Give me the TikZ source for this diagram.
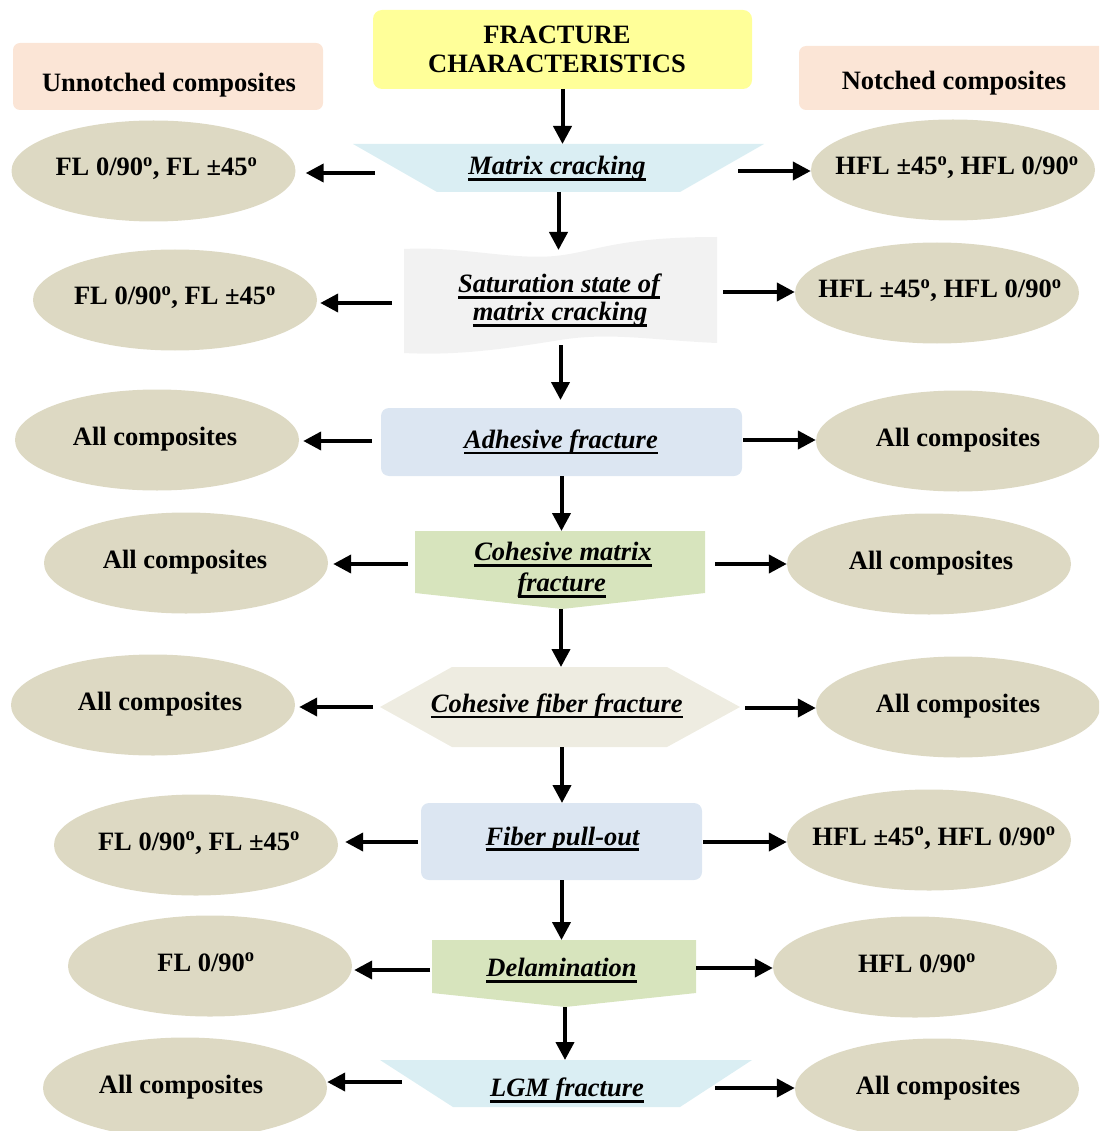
\documentclass[tikz,border=0pt]{standalone}
\usepackage{fontspec}
\setmainfont{Liberation Serif}
\usetikzlibrary{arrows.meta,shapes.geometric}
\definecolor{ellc}{HTML}{DDD9C3}
\definecolor{yel}{HTML}{FFFF99}
\definecolor{peach}{HTML}{FBE5D6}
\definecolor{ltblue}{HTML}{DAEEF3}
\definecolor{gry}{HTML}{F2F2F2}
\definecolor{blu}{HTML}{DCE6F2}
\definecolor{grn}{HTML}{D7E4BD}
\definecolor{beige}{HTML}{EEECE1}
\newcommand\fsz{\fontsize{26.5}{29.4}\selectfont\bfseries}
\newcommand\ulb[1]{\setbox0\hbox{#1}\rlap{\rule[-6pt]{\wd0}{2.6pt}}\box0}
\newcommand\dg{\textsuperscript{o}}
\tikzset{
  lab/.style={anchor=base, font=\fsz, inner sep=0pt},
  ilab/.style={anchor=base, font=\fsz\itshape, inner sep=0pt},
  ell/.style={ellipse, fill=ellc, minimum width=284pt, minimum height=101pt, inner sep=0pt},
  etext/.style={font=\fsz, inner sep=0pt, text height=16pt, text depth=6pt},
  shp/.style={rectangle, inner sep=0pt, outer sep=0pt},
  arr/.style={line width=4pt, -{Triangle[length=18pt,width=18pt]}},
}
\begin{document}
\begin{tikzpicture}[x=1pt,y=-1pt]
\useasboundingbox (0,0) rectangle (1099,1131);
\clip (0,0) rectangle (1099,1131);

% headers
\node[shp, fill=yel, rounded corners=9pt, minimum width=379pt, minimum height=79pt] (top) at (562.5,49.5) {};
\node[font=\fsz, align=center, inner sep=0pt] (topt) at (557,49.5) {FRACTURE\\CHARACTERISTICS};
\node[shp, fill=peach, rounded corners=7pt, minimum width=310pt, minimum height=67pt] (unn) at (168,76.5) {};
\node[lab] (unnt) at (169,91.5) {Unnotched composites};
\node[shp, fill=peach, rounded corners=7pt, minimum width=320pt, minimum height=64pt] (not) at (959,78) {};
\node[lab] (nott) at (954,89.3) {Notched composites};

% process shapes
\node[shp, minimum width=411pt, minimum height=48pt] (mc) at (558.5,168) {};
\fill[ltblue] (353,144) -- (764,144) -- (680,192) -- (437,192) -- cycle;
\node[ilab] (mct) at (557,175) {\ulb{Matrix cracking}};

\node[shp, minimum width=313pt, minimum height=116pt] (sat) at (560.5,295) {};
\fill[gry] (404,249) .. controls (460,246) and (510,260) .. (555,256)
  .. controls (595,252) and (615,237) .. (717,237)
  -- (717,343) .. controls (650,340) and (610,332) .. (560,340)
  .. controls (510,348) and (460,356) .. (404,353) -- cycle;
\node[ilab] (satt1) at (559,292.7) {\ulb{Saturation state of}};
\node[ilab] (satt2) at (560,320.7) {\ulb{matrix cracking}};

\node[shp, fill=blu, rounded corners=8pt, minimum width=361pt, minimum height=68pt] (adh) at (561.5,442) {};
\node[ilab] (adht) at (561,448.3) {\ulb{Adhesive fracture}};

\node[shp, minimum width=290pt, minimum height=78pt] (cm) at (561,570) {};
\fill[grn] (415,531) -- (705,531) -- (705,593) -- (562,609) -- (415,593) -- cycle;
\node[ilab] (cmt1) at (563,560.7) {\ulb{Cohesive matrix}};
\node[ilab] (cmt2) at (561.7,591.7) {\ulb{fracture}};

\node[shp, minimum width=360pt, minimum height=80pt] (cf) at (562,707) {};
\fill[beige] (380,707) -- (452,667) -- (667,667) -- (740,707) -- (667,747) -- (452,747) -- cycle;
\node[ilab] (cft) at (556.7,712.3) {\ulb{Cohesive fiber fracture}};

\node[shp, fill=blu, rounded corners=8pt, minimum width=281pt, minimum height=77pt] (fp) at (561.5,841.5) {};
\node[ilab] (fpt) at (562.5,845) {\ulb{Fiber pull-out}};

\node[shp, minimum width=264pt, minimum height=67pt] (del) at (565,973.5) {};
\fill[grn] (432,940) -- (696,940) -- (696,993) -- (565,1007) -- (432,993) -- cycle;
\node[ilab] (delt) at (561.5,976.7) {\ulb{Delamination}};

\node[shp, minimum width=372pt, minimum height=47pt] (lgm) at (566,1083.5) {};
\fill[ltblue] (380,1060) -- (752,1060) -- (680,1107) -- (453,1107) -- cycle;
\node[ilab] (lgmt) at (567,1096.7) {\ulb{LGM fracture}};

% ellipses
\foreach \n/\x/\y/\dx/\t in {
  L1/153.5/171/3/{FL 0/90\dg, FL ±45\dg},
  R1/953/170/4/{HFL ±45\dg, HFL 0/90\dg},
  L2/175/300/0/{FL 0/90\dg, FL ±45\dg},
  R2/937/293/3/{HFL ±45\dg, HFL 0/90\dg},
  L3/157/440/-2/{All composites},
  R3/958/441/0/{All composites},
  L4/186/563/-1/{All composites},
  R4/929/564/2/{All composites},
  L5/153/705/7/{All composites},
  R5/958/707/0/{All composites},
  L6/196/845/3/{FL 0/90\dg, FL ±45\dg},
  R6/929/840/5/{HFL ±45\dg, HFL 0/90\dg},
  L7/210/966/-4/{FL 0/90\dg},
  R7/915/967/2/{HFL 0/90\dg},
  L8/185/1088/-4/{All composites},
  R8/937/1089/1/{All composites}}{
  \node[ell] (\n) at (\x,\y) {};
  \node[etext, xshift=\dx pt] (\n t) at (\n) {\t};
}

% vertical arrows
\draw[arr] (top.south) -- (top.south |- mc.north);
\draw[arr] (mc.south) -- ([yshift=-13pt]mc.south |- sat.north);
\draw[arr] ([yshift=8pt]sat.south) -- ([yshift=8pt]sat.south |- adh.north);
\draw[arr] (adh.south) -- (adh.south |- cm.north);
\draw[arr] (cm.south) -- (cm.south |- cf.north);
\draw[arr] (cf.south) -- (cf.south |- fp.north);
\draw[arr] (fp.south) -- (fp.south |- del.north);
\draw[arr] (del.south) -- (del.south |- lgm.north);

% horizontal arrows
\foreach \c/\x/\y in {
  a1L/375/173, a2L/392/303, a3L/372/441, a4L/408/564,
  a5L/373/707, a6L/418/842, a7L/430/970, a8L/402/1082,
  a1R/738/171, a2R/723/292, a3R/743/440, a4R/715/564,
  a5R/745/708, a6R/703/842, a7R/696/968, a8R/715/1088}{
  \coordinate (\c) at (\x,\y);
}
\foreach \c/\e/\s in {a1L/L1/10, a2L/L2/3, a3L/L3/4, a4L/L4/5, a5L/L5/4, a6L/L6/7, a7L/L7/2, a8L/L8/0}{
  \draw[arr, shorten >=\s pt] (\c) -- (\c -| \e.east);
}
\foreach \c/\e in {a1R/R1, a2R/R2, a3R/R3, a4R/R4, a5R/R5, a6R/R6, a7R/R7, a8R/R8}{
  \draw[arr] (\c) -- (\c -| \e.west);
}
\end{tikzpicture}
\end{document}
